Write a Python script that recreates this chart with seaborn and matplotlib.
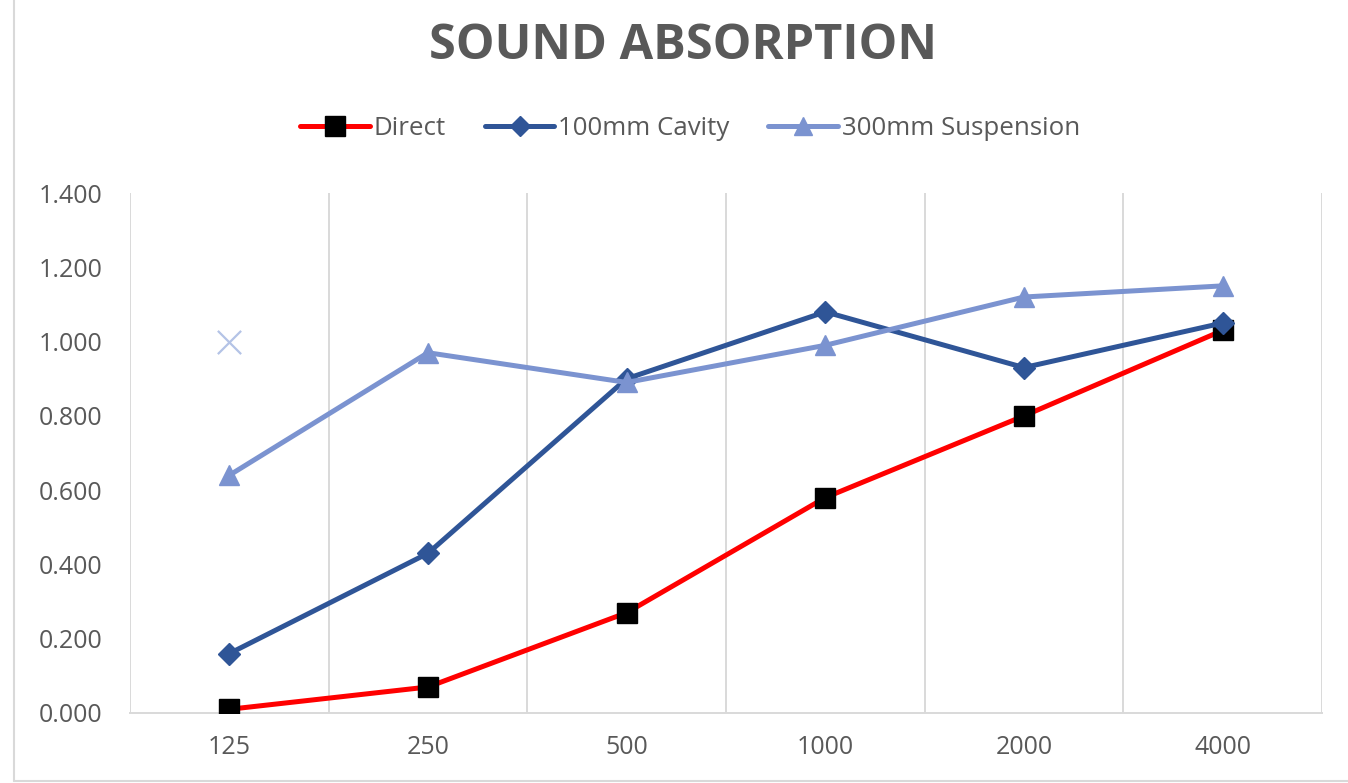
import numpy as np
import pandas as pd
import matplotlib.pyplot as plt
from matplotlib.lines import Line2D
import seaborn as sns

# DATA

freqs = ["125", "250", "500", "1000", "2000", "4000"]
direct = [0.01, 0.07, 0.27, 0.58, 0.80, 1.03]
cavity_100 = [0.16, 0.43, 0.90, 1.08, 0.93, 1.05]
suspension_300 = [0.64, 0.97, 0.89, 0.99, 1.12, 1.15]
series_names = ["Direct", "100mm Cavity", "300mm Suspension"]

# stray point with no legend entry
stray_freq = ["125"]
stray_val = [1.00]

y_ticks = [0.0, 0.2, 0.4, 0.6, 0.8, 1.0, 1.2, 1.4]

df = pd.DataFrame({
    "Frequency": freqs * 3,
    "Absorption": direct + cavity_100 + suspension_300,
    "Series": np.repeat(series_names, len(freqs)),
})

# STYLE

colors = {"Direct": "#FF0000", "100mm Cavity": "#2F5597", "300mm Suspension": "#7B93D0"}
markers = {"Direct": "s", "100mm Cavity": "D", "300mm Suspension": "^"}
msizes = {"Direct": 15, "100mm Cavity": 11, "300mm Suspension": 14}
face = {"Direct": "black", "100mm Cavity": "#2F5597", "300mm Suspension": "#7B93D0"}
text_grey = "#595959"
grid_grey = "#D9D9D9"

sns.set_theme(style="white")
plt.rcParams['font.family'] = ['Open Sans', 'DejaVu Sans']

fig = plt.figure(figsize=(13.48, 7.83), dpi=100)
ax = fig.add_axes([0.0964, 0.0894, 0.8843, 0.6641])

sns.lineplot(
    data=df, x="Frequency", y="Absorption",
    hue="Series", style="Series",
    hue_order=series_names, style_order=series_names,
    palette=colors, markers=markers, dashes=False,
    linewidth=3.6, legend=False, ax=ax, zorder=3,
)

# per-series marker tweaks
for line, name in zip(ax.lines, series_names):
    line.set_markersize(msizes[name])
    line.set_markerfacecolor(face[name])
    line.set_markeredgecolor(face[name])
    line.set_markeredgewidth(1)

sns.scatterplot(x=stray_freq, y=stray_val, marker="x", s=280, color="#B4C3E6",
                linewidth=1.6, ax=ax, zorder=3)

# AXES

ax.set_xlim(-0.5, len(freqs) - 0.5)
ax.set_ylim(0, 1.4)
ax.set_yticks(y_ticks)
ax.set_yticklabels([f"{v:.3f}" for v in y_ticks])
ax.set_xticks(range(len(freqs)))
ax.set_xticklabels(freqs)
ax.set_xticks(np.arange(-0.5, len(freqs), 1), minor=True)
ax.grid(False)
ax.grid(which="minor", axis="x", color=grid_grey, linewidth=1.4, zorder=0)
ax.tick_params(axis="both", which="both", length=0, colors=text_grey, labelsize=18)
ax.tick_params(axis="y", pad=20)
ax.tick_params(axis="x", pad=16)
ax.set_xlabel("")
ax.set_ylabel("")
for side in ["top", "right", "left"]:
    ax.spines[side].set_visible(False)
ax.spines["bottom"].set_color(grid_grey)
ax.spines["bottom"].set_linewidth(1.4)

# TITLE + LEGEND

fig.text(0.507, 0.94, "SOUND ABSORPTION", ha="center", va="center",
         fontsize=35, fontweight="bold", color=text_grey)

handles = [Line2D([], [], color=colors[n], lw=3.6, marker=markers[n],
                  markersize=msizes[n] * 0.95, markerfacecolor=face[n],
                  markeredgecolor=face[n]) for n in series_names]
fig.legend(handles, series_names, loc="center", bbox_to_anchor=(0.512, 0.836),
           ncol=3, frameon=False, fontsize=18.6, handlelength=2.7,
           handletextpad=0.15, columnspacing=1.5, labelcolor=text_grey)

# chart border (left and bottom visible)
fig.add_artist(Line2D([14 / 1348, 14 / 1348], [2 / 783, 1], color=grid_grey, lw=1.5))
fig.add_artist(Line2D([14 / 1348, 1], [2 / 783, 2 / 783], color=grid_grey, lw=1.5))

plt.savefig("out.png", dpi=100)
